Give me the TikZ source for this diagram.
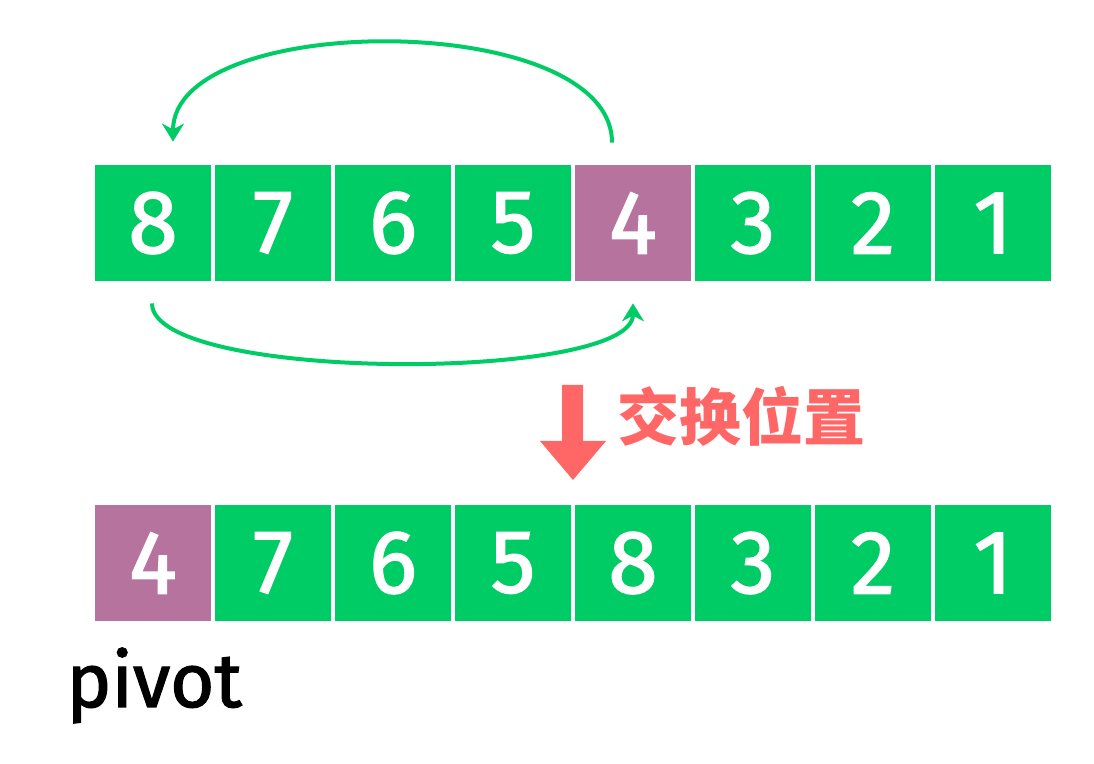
\documentclass[tikz,border=0pt]{standalone}
\usepackage{fontspec}
\setmainfont{Fira Sans}
\newfontfamily\digfont{Fira Sans}[FakeBold=1.6]
\newfontfamily\cjk{Noto Sans CJK SC}
\usetikzlibrary{arrows.meta,positioning}
\definecolor{cellgrn}{HTML}{00CC66}
\definecolor{cellprp}{HTML}{B5739D}
\definecolor{swpred}{HTML}{FF6666}
\tikzset{
  cell/.style={rectangle,minimum width=57.6pt,minimum height=58pt,inner sep=0pt,text=white,font=\digfont\fontsize{45}{45}\selectfont},
  grncell/.style={cell,fill=cellgrn},
  prpcell/.style={cell,fill=cellprp},
  swparr/.style={-{Stealth[length=9pt,width=11pt]},line width=2pt,draw=cellgrn},
  swplbl/.style={font=\cjk\bfseries\fontsize{31}{31}\selectfont,text=swpred,inner sep=0pt},
  pvtlbl/.style={font=\digfont\fontsize{38}{38}\selectfont,inner sep=0pt,anchor=base west}
}
\begin{document}
\begin{tikzpicture}[x=0.5pt,y=-0.5pt,node distance=0pt and 2pt]
  \useasboundingbox (0,0) rectangle (1094,764);

  % before the swap
  \node[grncell] (t1) at (153,223) {8};
  \node[grncell, right=of t1] (t2) {7};
  \node[grncell, right=of t2] (t3) {6};
  \node[grncell, right=of t3] (t4) {5};
  \node[prpcell, right=of t4] (t5) {4};
  \node[grncell, right=of t5] (t6) {3};
  \node[grncell, right=of t6] (t7) {2};
  \node[grncell, right=of t7] (t8) {1};

  % after the swap
  \node[prpcell] (b1) at (153,563) {4};
  \node[grncell, right=of b1] (b2) {7};
  \node[grncell, right=of b2] (b3) {6};
  \node[grncell, right=of b3] (b4) {5};
  \node[grncell, right=of b4] (b5) {8};
  \node[grncell, right=of b5] (b6) {3};
  \node[grncell, right=of b6] (b7) {2};
  \node[grncell, right=of b7] (b8) {1};

  \coordinate (upS) at ([shift={(-21,-22)}]t5.north);
  \coordinate (upE) at ([shift={(20,-23)}]t1.north);
  \coordinate (loS) at ([shift={(-1,22)}]t1.south);
  \coordinate (loE) at ([shift={(0,22)}]t5.south);
  \draw[swparr] (upS) .. controls +(0,-133) and +(0,-132) .. (upE);
  \draw[swparr] (loS) .. controls +(0,79) and +(0,79) .. (loE);

  % block arrow
  \fill[swpred] (562,385) -- (583,385) -- (583,441) -- (606,441) -- (573,480)
    -- (540,441) -- (562,441) -- cycle;
  \node[swplbl] (swp) at (741,416) {交换位置};

  \node[pvtlbl] (pvt) at (66,707) {pivot};
\end{tikzpicture}
\end{document}
